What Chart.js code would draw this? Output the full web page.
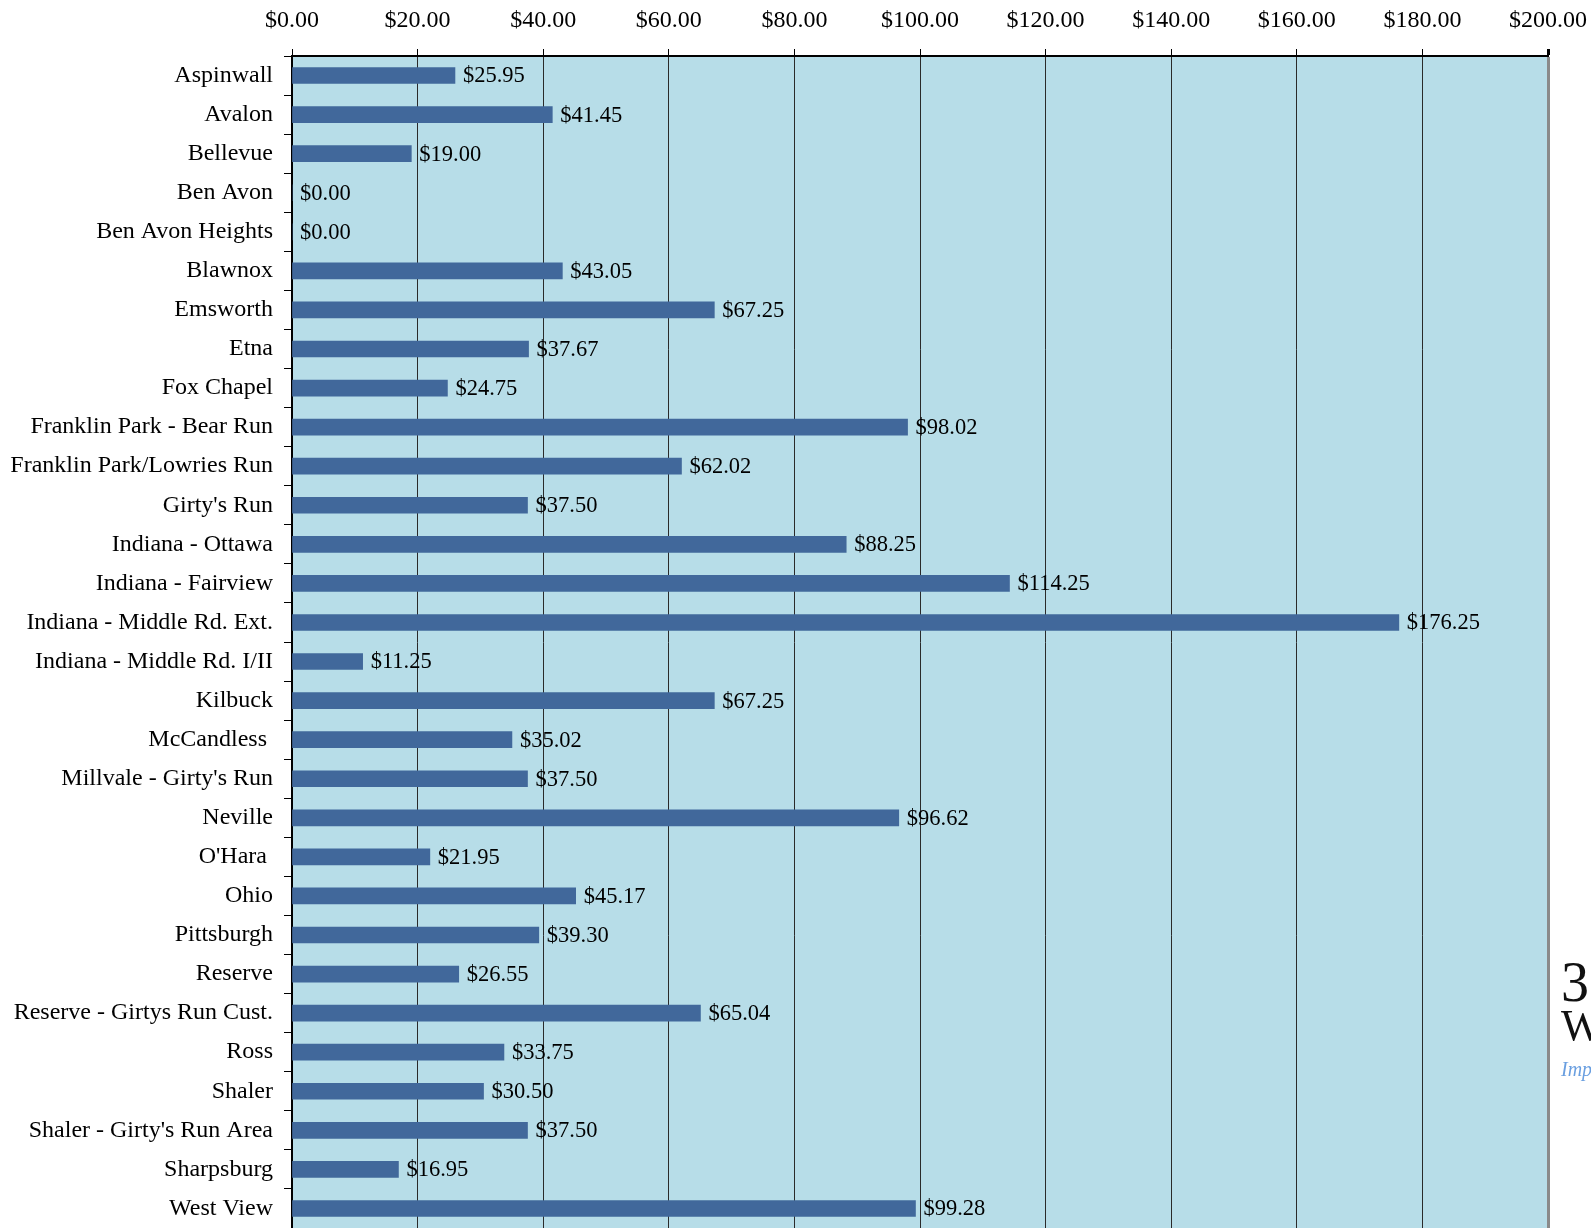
<!DOCTYPE html>
<html>
<head>
<meta charset="utf-8">
<script src="https://cdn.jsdelivr.net/npm/chart.js@4/dist/chart.umd.min.js"></script>
<style>
  html, body { margin: 0; padding: 0; background: #fff; overflow: hidden; }
  #wrap { position: relative; width: 1591px; height: 1228px; overflow: hidden; }
  #c { display: block; }
  #logo { position: absolute; left: 1561px; top: 954px; font-family: "Liberation Serif", serif; color: #111; white-space: nowrap; }
  #logo .n { font-size: 56px; line-height: 56px; }
  #logo .w { font-size: 44px; line-height: 40px; margin-top: -4px; }
  #logo .t { font-size: 20px; font-style: italic; color: #6a9fe0; margin-top: 12px; }
</style>
</head>
<body>
<div id="wrap">
  <canvas id="c" width="1591" height="1228"></canvas>
  <div id="logo"><div class="n">3</div><div class="w">W</div><div class="t">Improving</div></div>
</div>
<script>
const categories = [
  "Aspinwall", "Avalon", "Bellevue", "Ben Avon", "Ben Avon Heights", "Blawnox",
  "Emsworth", "Etna", "Fox Chapel", "Franklin Park - Bear Run", "Franklin Park/Lowries Run",
  "Girty's Run", "Indiana - Ottawa", "Indiana - Fairview", "Indiana - Middle Rd. Ext.",
  "Indiana - Middle Rd. I/II", "Kilbuck", "McCandless ", "Millvale - Girty's Run", "Neville",
  "O'Hara ", "Ohio", "Pittsburgh", "Reserve", "Reserve - Girtys Run Cust.", "Ross", "Shaler",
  "Shaler - Girty's Run Area", "Sharpsburg", "West View"
];
const values = [
  25.95, 41.45, 19.00, 0.00, 0.00, 43.05,
  67.25, 37.67, 24.75, 98.02, 62.02,
  37.50, 88.25, 114.25, 176.25,
  11.25, 67.25, 35.02, 37.50, 96.62,
  21.95, 45.17, 39.30, 26.55, 65.04, 33.75, 30.50,
  37.50, 16.95, 99.28
];
const xMin = 0, xMax = 200, xStep = 20;

const FONT = "Liberation Serif";
const FS = 24;
const VFS = 22.5;
const money = v => "$" + Number(v).toFixed(2);

const bgPlugin = {
  id: "bg",
  beforeDraw(chart) {
    const a = chart.chartArea, ctx = chart.ctx;
    ctx.save();
    ctx.fillStyle = "#b7dde8";
    ctx.fillRect(a.left, a.top, a.right - a.left, a.bottom - a.top);
    ctx.restore();
  }
};
const labelPlugin = {
  id: "vals",
  afterDatasetsDraw(chart) {
    const ctx = chart.ctx;
    const meta = chart.getDatasetMeta(0);
    ctx.save();
    ctx.font = VFS + "px '" + FONT + "'";
    ctx.fillStyle = "#000";
    ctx.textAlign = "left";
    ctx.textBaseline = "middle";
    meta.data.forEach((bar, i) => {
      ctx.fillText(money(values[i]), bar.x + 8, bar.y + 1);
    });
    ctx.restore();
  }
};

Chart.defaults.font.family = FONT;
Chart.defaults.color = "#000";

new Chart(document.getElementById("c"), {
  type: "bar",
  data: {
    labels: categories,
    datasets: [{
      data: values,
      backgroundColor: "#41689b",
      borderWidth: 0,
      barThickness: 16
    }]
  },
  options: {
    indexAxis: "y",
    responsive: false,
    devicePixelRatio: 1,
    animation: false,
    layout: { padding: { top: 0, right: 43, bottom: -3, left: 0 } },
    plugins: { legend: { display: false }, tooltip: { enabled: false } },
    scales: {
      x: {
        position: "top",
        min: xMin, max: xMax,
        ticks: {
          stepSize: xStep,
          callback: v => money(v),
          font: { size: FS },
          color: "#000",
          padding: 14,
          maxRotation: 0
        },
        grid: {
          color: ctx => ctx.index === 10 ? "#8a8a8a" : "#2a2a2a",
          lineWidth: ctx => ctx.index === 10 ? 3 : 1,
          tickColor: "#000",
          tickLength: 7,
          drawTicks: true
        },
        border: { color: "#000", width: 2 },
        afterFit: s => { s.height = 56; s.paddingLeft = 0; s.paddingRight = 0; }
      },
      y: {
        ticks: {
          font: { size: FS },
          color: "#000",
          padding: 11,
          autoSkip: false
        },
        grid: {
          drawOnChartArea: false,
          drawTicks: true,
          tickLength: 8,
          tickColor: "#000",
          offset: true
        },
        border: { color: "#000", width: 2 },
        afterFit: s => { s.width = 292; s.paddingTop = 0; s.paddingBottom = 0; }
      }
    }
  },
  plugins: [bgPlugin, labelPlugin]
});
</script>
</body>
</html>
